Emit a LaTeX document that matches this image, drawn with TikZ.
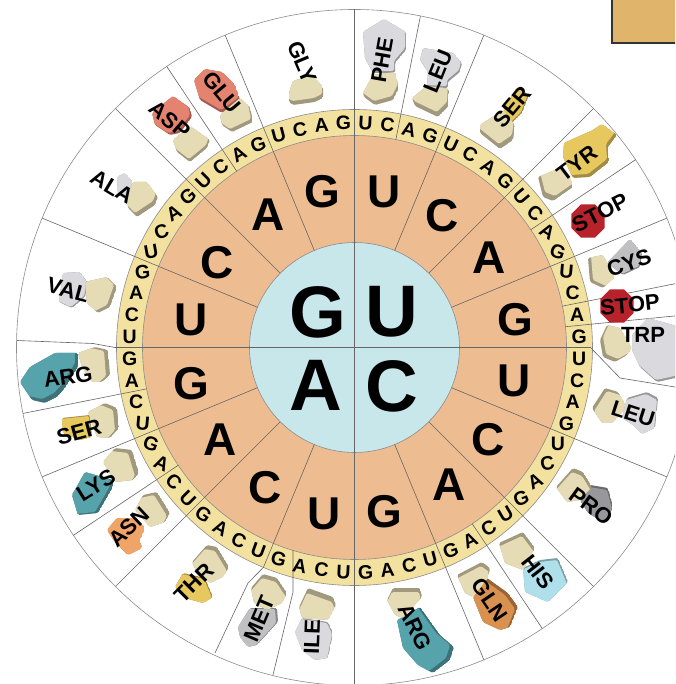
\documentclass[tikz,border=0pt]{standalone}
\usepackage{fontspec}
\setmainfont{Liberation Sans}
\usepackage{xcolor}
\definecolor{hubblue}{HTML}{C8E7EB}
\definecolor{ringorange}{HTML}{EDBC90}
\definecolor{ringyellow}{HTML}{F3E29F}
\definecolor{tileorange}{HTML}{E0B56B}
\definecolor{stemtan}{HTML}{E5DBB4}
\definecolor{sidegrey}{HTML}{DADADE}
\definecolor{midgrey}{HTML}{C0C0C2}
\definecolor{darkgrey}{HTML}{98989C}
\definecolor{sideteal}{HTML}{57A3AC}
\definecolor{sidecoral}{HTML}{E58371}
\definecolor{sideyellow}{HTML}{E6C85F}
\definecolor{sidebrown}{HTML}{D8914F}
\definecolor{sidepeach}{HTML}{F0A468}
\definecolor{sidesky}{HTML}{AEDFEA}
\definecolor{stopred}{HTML}{B8232B}
\usepackage{tikz}
\usetikzlibrary{shapes.geometric}

\newcommand{\piece}[3]{%
    \begin{scope}[rounded corners=1.5pt]
        \clip #3 -- cycle;
        \fill[#1!70!black] #3 -- cycle;
        \fill[#1,shift={#2}] #3 -- cycle;
    \end{scope}}

\begin{document}
\begin{tikzpicture}[
    x=1pt, y=1pt,
    hubletter/.style={font=\fontsize{73}{73}\selectfont\bfseries, inner sep=0pt},
    midletter/.style={font=\fontsize{46}{46}\selectfont\bfseries, inner sep=0pt},
    baseletter/.style={font=\fontsize{19.5}{19.5}\selectfont\bfseries, inner sep=0pt},
    amino/.style={font=\fontsize{22}{22}\selectfont\bfseries, inner sep=0pt},
    spoke/.style={draw=black!60, line width=0.6pt},
    ringline/.style={draw=black!45, line width=0.6pt},
    stopsign/.style={regular polygon, regular polygon sides=8, fill=stopred, minimum size=36pt, inner sep=0pt}
]

\useasboundingbox (-354.5,-336.5) rectangle (320.5,347.5);
\clip (-354.5,-336.5) rectangle (320.5,347.5);
\fill[white] (-354.5,-336.5) rectangle (320.5,347.5);

% rings
\draw[ringline] (0,0) circle (338);
\fill[ringyellow] (0,0) circle (238);
\draw[ringline] (0,0) circle (238);
\fill[ringorange] (0,0) circle (212);
\draw[ringline] (0,0) circle (212);
\fill[hubblue] (0,0) circle (105);
\draw[ringline] (0,0) circle (105);

% spokes
\draw[spoke] (0,338) -- (0,-338);
\draw[spoke] (320.5,-39.5) -- (265.5,-30.5) -- (236,0) -- (-239.5,0) -- (-261.5,4) -- (-337.5,7);
\foreach \a in {22.5,45,67.5,112.5,135,157.5,-157.5,-135,-67.5,-45,-22.5}
    \draw[spoke] (\a:105) -- (\a:338);
\foreach \a in {78.75,33.75,11.25,5.625,123.75,-146.25,-168.75,-56.25}
    \draw[spoke] (\a:212) -- (\a:338);
\draw[spoke] (-106.875:212) -- (-61.5,-244.5) -- (-81.5,-327.5);
\draw[spoke] (-112.5:105) -- (-112.5:238) -- (-106.5,-235.5) -- (-139.5,-305.5);

% outer letter ring
\foreach \s/\ru/\rc/\ra/\rg [count=\n] in {
    90/-3/-8/-14/-20, 67.5/-25/-30/-35/-45, 45/-50/-42/-32/-20, 22.5/-5/0/0/0,
    0/0/0/0/0, -22.5/0/12/28/22, -45/30/30/25/20, -67.5/15/12/6/3,
    -90/-3/-6/-10/-15, -112.5/-20/-25/-30/-35, -135/-45/-45/-25/-20, -157.5/-5/0/0/0,
    180/0/0/0/5, 157.5/10/20/30/40, 135/45/35/30/20, 112.5/15/10/5/0}{
    \node[baseletter, rotate=\ru] (baseU\n) at ({\s-2.8125}:225) {U};
    \node[baseletter, rotate=\rc] (baseC\n) at ({\s-8.4375}:225) {C};
    \node[baseletter, rotate=\ra] (baseA\n) at ({\s-14.0625}:225) {A};
    \node[baseletter, rotate=\rg] (baseG\n) at ({\s-19.6875}:225) {G};
}

% the rest in pixel positions
\begin{scope}[shift={(-354.5,347.5)}, y=-1pt]

\fill[tileorange, draw=black!80, line width=1.6pt] (612,-2) rectangle (680,43);

% hub and middle ring
\node[hubletter] (hubG) at (318,312) {G};
\node[hubletter] (hubU) at (392,312) {U};
\node[hubletter] (hubA) at (316,385) {A};
\node[hubletter] (hubC) at (392,386) {C};
\foreach \x/\y/\l [count=\n] in {384/192/U,442/216/C,489/258/A,515/320/G,514/381/U,488/440/C,449/485/A,384/512/G,
    324/514/U,265/488/C,220/440/A,191/384/G,191/320/U,217/263/C,268/215/A,322/192/G}
    \node[midletter] (mid\n) at (\x,\y) {\l};

% upper right
\piece{sidegrey}{(-1,-2)}{(363,32) -- (384,19) -- (406,32) -- (406,50) -- (395,63) -- (395,73) -- (373,73) -- (365,58)}
\piece{stemtan}{(-1,-4)}{(363,93) -- (373,75) -- (395,72) -- (399,88) -- (393,100) -- (375,105) -- (364,97)}
\piece{sidegrey}{(-1,-2)}{(423,48) -- (453,53) -- (462,63) -- (460,72) -- (448,82) -- (448,88) -- (427,87) -- (428,72) -- (420,60)}
\piece{stemtan}{(-1,-5)}{(427,86) -- (449,89) -- (448,107) -- (438,117) -- (415,106) -- (412,98)}
\piece{sideyellow}{(-1,-1)}{(517,87) -- (529,95) -- (522,113) -- (512,123) -- (503,110)}
\piece{stemtan}{(-1,-5)}{(480,125) -- (503,110) -- (515,125) -- (513,140) -- (500,149) -- (480,133)}
\piece{sideyellow}{(-2,-3)}{(564,143) -- (593,130) -- (602,124) -- (617,135) -- (608,147) -- (609,162) -- (590,177) -- (573,178) -- (563,157)}
\piece{stemtan}{(2,-5)}{(538,177) -- (560,168) -- (570,177) -- (573,187) -- (553,201) -- (543,197)}
\piece{midgrey}{(-1,-1)}{(630,239) -- (642,253) -- (640,267) -- (623,275) -- (607,263)}
\piece{stemtan}{(3,-2)}{(588,258) -- (603,255) -- (615,277) -- (603,288) -- (590,282)}
\piece{stemtan}{(3,-3)}{(600,340) -- (607,325) -- (620,328) -- (632,348) -- (627,355) -- (615,362) -- (603,357)}
\piece{sidegrey}{(-1,-2)}{(632,335) -- (648,318) -- (680,327) -- (680,377) -- (657,382) -- (640,367) -- (632,350)}
\node[stopsign] (stopA) at (588,221) {};
\node[stopsign] (stopB) at (617,306) {};

% lower right
\piece{stemtan}{(2,3)}{(592,408) -- (605,388) -- (618,392) -- (627,407) -- (612,423) -- (602,423)}
\piece{sidegrey}{(-1,2)}{(627,398) -- (647,392) -- (658,398) -- (655,428) -- (642,434) -- (633,425) -- (622,418)}
\piece{darkgrey}{(-1,2)}{(590,485) -- (608,488) -- (613,507) -- (605,523) -- (588,513) -- (580,500)}
\piece{stemtan}{(-1,4)}{(556,487) -- (573,468) -- (583,472) -- (592,487) -- (580,500) -- (567,502)}
\piece{sidesky}{(-1,2)}{(523,568) -- (540,560) -- (558,558) -- (568,582) -- (548,602) -- (525,592)}
\piece{stemtan}{(-1,4)}{(499,543) -- (523,532) -- (535,548) -- (523,570) -- (505,563)}
\piece{sidebrown}{(-3,2)}{(473,597) -- (487,578) -- (508,593) -- (518,607) -- (510,627) -- (500,630) -- (483,622)}
\piece{stemtan}{(-1,4)}{(457,575) -- (482,562) -- (490,568) -- (488,578) -- (473,597) -- (465,593)}
\piece{sideteal}{(-4,-2)}{(397,620) -- (403,617) -- (420,607) -- (440,635) -- (454,647) -- (450,660) -- (433,673) -- (418,665) -- (403,648)}
\piece{stemtan}{(-1,4)}{(387,600) -- (393,588) -- (420,588) -- (422,597) -- (403,618) -- (395,615)}

% lower left
\piece{midgrey}{(-2,1)}{(238,627) -- (250,608) -- (277,608) -- (278,622) -- (257,645) -- (248,647) -- (240,637)}
\piece{stemtan}{(-1,4)}{(251,588) -- (263,574) -- (277,578) -- (287,593) -- (282,603) -- (267,610) -- (254,603)}
\piece{sidegrey}{(-1,1)}{(295,632) -- (302,618) -- (328,622) -- (333,633) -- (328,658) -- (315,660) -- (302,650)}
\piece{stemtan}{(-1,5)}{(299,607) -- (308,588) -- (333,597) -- (336,605) -- (328,620) -- (302,618)}
\piece{sideyellow}{(-1,1)}{(175,587) -- (183,573) -- (205,578) -- (213,597) -- (203,603) -- (185,598)}
\piece{stemtan}{(-2,4)}{(192,562) -- (207,545) -- (217,547) -- (229,567) -- (223,577) -- (210,583) -- (197,573)}
\piece{sidepeach}{(0,0)}{(107,530) -- (117,518) -- (137,518) -- (145,528) -- (140,540) -- (142,548) -- (128,555) -- (115,542)}
\piece{stemtan}{(-3,3)}{(135,510) -- (143,495) -- (157,492) -- (170,513) -- (165,522) -- (150,527)}
\piece{sideteal}{(-3,-1)}{(72,495) -- (85,472) -- (113,480) -- (113,487) -- (98,513) -- (78,515)}
\piece{stemtan}{(-4,3)}{(103,462) -- (115,448) -- (132,450) -- (139,473) -- (133,480) -- (115,482)}
\piece{sideyellow}{(-1,1)}{(62,418) -- (90,415) -- (92,437) -- (80,440) -- (63,433)}
\piece{stemtan}{(-4,2)}{(88,412) -- (105,403) -- (117,408) -- (119,428) -- (110,438) -- (97,437)}
\piece{sideteal}{(-3,-4)}{(20,382) -- (30,367) -- (55,353) -- (78,353) -- (78,367) -- (65,388) -- (57,397) -- (45,403) -- (32,400)}
\piece{stemtan}{(-4,1)}{(78,353) -- (95,347) -- (108,350) -- (110,375) -- (102,382) -- (92,382) -- (82,367)}

% upper left
\piece{sidegrey}{(-1,-1)}{(59,302) -- (63,273) -- (80,272) -- (88,283) -- (85,297) -- (72,308)}
\piece{stemtan}{(-3,-2)}{(85,282) -- (107,277) -- (117,287) -- (110,307) -- (98,313) -- (87,303)}
\piece{sidegrey}{(0,0)}{(117,177) -- (125,173) -- (133,182) -- (128,200) -- (118,195)}
\piece{stemtan}{(-2,-4)}{(127,197) -- (133,182) -- (147,182) -- (158,197) -- (155,205) -- (137,217) -- (128,208)}
\piece{sidecoral}{(-2,-2)}{(152,113) -- (173,96) -- (190,108) -- (192,117) -- (180,133) -- (170,135) -- (155,125)}
\piece{stemtan}{(-1,-3)}{(173,140) -- (190,126) -- (210,140) -- (207,148) -- (190,162) -- (177,152)}
\piece{sidecoral}{(-1,-3)}{(194,80) -- (205,69) -- (222,72) -- (235,85) -- (240,100) -- (222,113) -- (200,100)}
\piece{stemtan}{(-2,-3)}{(220,115) -- (240,98) -- (250,107) -- (253,122) -- (232,132) -- (222,125)}
\piece{stemtan}{(-1,-4)}{(289,93) -- (293,81) -- (312,75) -- (323,87) -- (323,98) -- (315,102) -- (293,105) -- (289,102)}

% labels
\node[amino, rotate=80] (phe) at (382,60) {PHE};
\node[amino, rotate=68] (leuA) at (438,71) {LEU};
\node[amino, rotate=50] (serA) at (512,107) {SER};
\node[amino, rotate=37] (tyr) at (577,163) {TYR};
\node[amino, rotate=27] (stoplabelA) at (600,213) {STOP};
\node[amino, rotate=20] (cys) at (629,263) {CYS};
\node[amino, rotate=6] (stoplabelB) at (630,305) {STOP};
\node[amino] (trp) at (643,335) {TRP};
\node[amino, rotate=-18] (leuB) at (633,414) {LEU};
\node[amino, rotate=-36] (pro) at (591,506) {PRO};
\node[amino, rotate=-52] (his) at (538,572) {HIS};
\node[amino, rotate=-56] (gln) at (490,600) {GLN};
\node[amino, rotate=-65] (argA) at (415,627) {ARG};
\node[amino, rotate=88] (ile) at (312,637) {ILE};
\node[amino, rotate=67] (met) at (259,619) {MET};
\node[amino, rotate=45] (thr) at (194,583) {THR};
\node[amino, rotate=43] (asn) at (129,527) {ASN};
\node[amino, rotate=32] (lys) at (96,485) {LYS};
\node[amino, rotate=15] (serB) at (79,432) {SER};
\node[amino, rotate=8] (argB) at (68,377) {ARG};
\node[amino, rotate=-15] (val) at (68,290) {VAL};
\node[amino, rotate=-31] (ala) at (112,187) {ALA};
\node[amino, rotate=-41] (asp) at (170,120) {ASP};
\node[amino, rotate=-50] (glu) at (222,92) {GLU};
\node[amino, rotate=-67] (gly) at (302,62) {GLY};

\end{scope}

\end{tikzpicture}
\end{document}
